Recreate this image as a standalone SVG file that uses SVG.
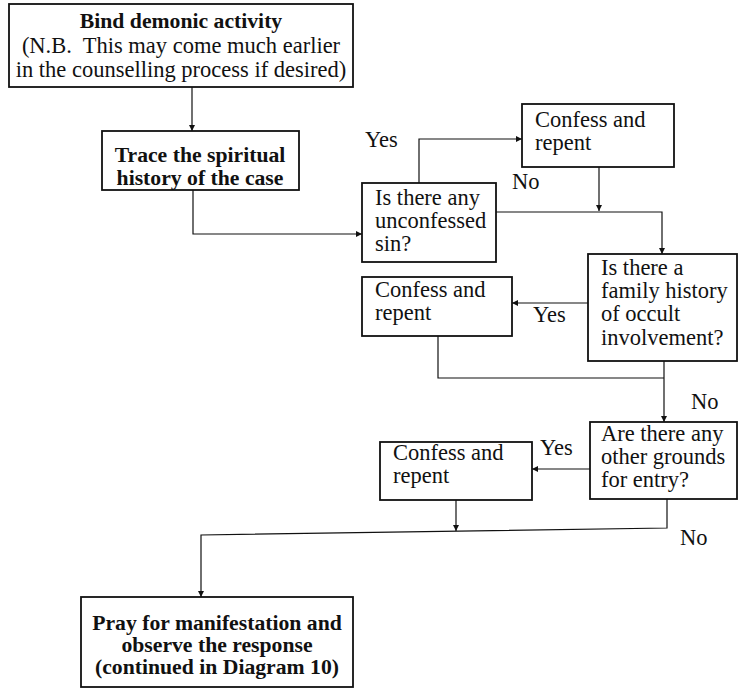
<svg xmlns="http://www.w3.org/2000/svg" width="739" height="690" viewBox="0 0 739 690">
  <style>
    .box { fill: #ffffff; stroke: #111111; stroke-width: 1.8; }
    .link { fill: none; stroke: #111111; stroke-width: 1.2; }
    text { font-family: "Liberation Serif", "Times New Roman", serif; font-size: 22.5px; fill: #111111; }
    .b { font-weight: bold; font-size: 21.7px; }
    .c { text-anchor: middle; }
  </style>
  <defs>
    <marker id="arrow" viewBox="0 0 8 8" refX="8" refY="4" markerWidth="6" markerHeight="6" markerUnits="userSpaceOnUse" orient="auto">
      <path d="M0,0 L8,4 L0,8 Z" fill="#111111"/>
    </marker>
  </defs>
  <rect width="739" height="690" fill="#ffffff"/>

  <!-- connectors and their Yes/No labels -->
  <g id="connectors">
    <path class="link" d="M192,87 V131" marker-end="url(#arrow)"/>
    <path class="link" d="M193,190 V234 H362" marker-end="url(#arrow)"/>
    <path class="link" d="M419,183 V139 H522" marker-end="url(#arrow)"/>
    <path class="link" d="M599,167 V211" marker-end="url(#arrow)"/>
    <path class="link" d="M496,212 H662 V254" marker-end="url(#arrow)"/>
    <path class="link" d="M588,303 H512" marker-end="url(#arrow)"/>
    <path class="link" d="M438,336 V378 H664"/>
    <path class="link" d="M664,361 V422" marker-end="url(#arrow)"/>
    <path class="link" d="M590,469 H532" marker-end="url(#arrow)"/>
    <path class="link" d="M456,500 V531" marker-end="url(#arrow)"/>
    <path class="link" d="M667,499 V528 L201,535 V597" marker-end="url(#arrow)"/>
    <text x="365" y="147">Yes</text>
    <text x="512" y="189">No</text>
    <text x="533" y="322">Yes</text>
    <text x="691" y="409">No</text>
    <text x="540" y="455">Yes</text>
    <text x="680" y="545">No</text>
  </g>

  <g id="bind">
    <rect class="box" x="9" y="4" width="344" height="83"/>
    <text class="b c" x="181" y="28">Bind demonic activity</text>
    <text class="c" x="181" y="53">(N.B.&#160; This may come much earlier</text>
    <text class="c" x="181" y="77">in the counselling process if desired)</text>
  </g>

  <g id="trace">
    <rect class="box" x="102" y="131" width="197" height="59"/>
    <text class="b c" x="200" y="162">Trace the spiritual</text>
    <text class="b c" x="200" y="185">history of the case</text>
  </g>

  <g id="unconfessed">
    <rect class="box" x="362" y="183" width="134" height="79"/>
    <text x="375" y="205">Is there any</text>
    <text x="375" y="228">unconfessed</text>
    <text x="375" y="251">sin?</text>
  </g>

  <g id="confess1">
    <rect class="box" x="522" y="104" width="152" height="63"/>
    <text x="535" y="127">Confess and</text>
    <text x="535" y="150">repent</text>
  </g>

  <g id="family">
    <rect class="box" x="588" y="254" width="149" height="107"/>
    <text x="601" y="275">Is there a</text>
    <text x="601" y="298">family history</text>
    <text x="601" y="321">of occult</text>
    <text x="601" y="345">involvement?</text>
  </g>

  <g id="confess2">
    <rect class="box" x="362" y="277" width="150" height="59"/>
    <text x="375" y="297">Confess and</text>
    <text x="375" y="320">repent</text>
  </g>

  <g id="grounds">
    <rect class="box" x="590" y="422" width="147" height="77"/>
    <text x="601" y="441">Are there any</text>
    <text x="601" y="464">other grounds</text>
    <text x="601" y="487">for entry?</text>
  </g>

  <g id="confess3">
    <rect class="box" x="380" y="442" width="152" height="58"/>
    <text x="393" y="460">Confess and</text>
    <text x="393" y="483">repent</text>
  </g>

  <g id="pray">
    <rect class="box" x="81" y="597" width="272" height="90"/>
    <text class="b c" x="217" y="630">Pray for manifestation and</text>
    <text class="b c" x="217" y="652">observe the response</text>
    <text class="b c" x="217" y="674">(continued in Diagram 10)</text>
  </g>
</svg>
